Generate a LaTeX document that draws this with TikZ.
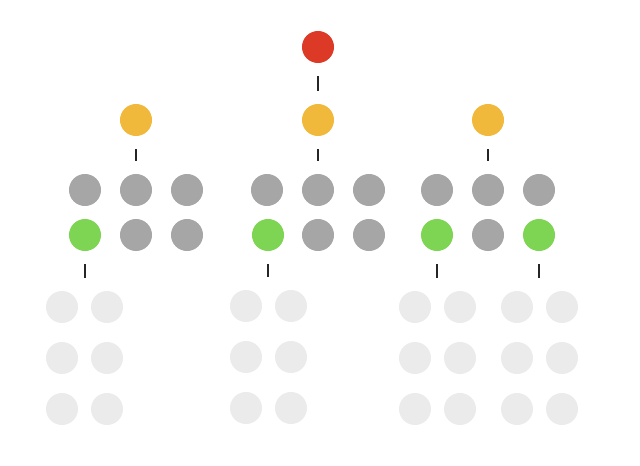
\documentclass[tikz,border=0pt]{standalone}
\definecolor{rootred}{HTML}{DC3A26}
\definecolor{midyellow}{HTML}{F0B93C}
\definecolor{leafgray}{HTML}{A6A6A6}
\definecolor{hitgreen}{HTML}{7ED453}
\definecolor{ghostgray}{HTML}{EBEBEB}
\begin{document}
\begin{tikzpicture}[x=0.025cm,y=-0.025cm]
            \tikzstyle{every node}+=[inner sep=0pt]
            \tikzstyle{dot}=[circle, minimum size=0.8cm]
            \tikzstyle{tick}=[draw=black!85, line width=1.4pt, shorten >=0.33cm, shorten <=0.33cm]
            \useasboundingbox (0,0) rectangle (640,466);
            % root and middle level
            \node [dot, fill=rootred] (r) at (318,47) {};
            \node [dot, fill=midyellow] (y1) at (136,120) {};
            \node [dot, fill=midyellow] (y2) at (318,120) {};
            \node [dot, fill=midyellow] (y3) at (488,120) {};
            % group 1
            \node [dot, fill=leafgray] (a11) at (85,190) {};
            \node [dot, fill=leafgray] (a12) at (136,190) {};
            \node [dot, fill=leafgray] (a13) at (187,190) {};
            \node [dot, fill=hitgreen] (a21) at (85,235) {};
            \node [dot, fill=leafgray] (a22) at (136,235) {};
            \node [dot, fill=leafgray] (a23) at (187,235) {};
            % group 2
            \node [dot, fill=leafgray] (b11) at (267,190) {};
            \node [dot, fill=leafgray] (b12) at (318,190) {};
            \node [dot, fill=leafgray] (b13) at (369,190) {};
            \node [dot, fill=hitgreen] (b21) at (268,235) {};
            \node [dot, fill=leafgray] (b22) at (318,235) {};
            \node [dot, fill=leafgray] (b23) at (369,235) {};
            % group 3
            \node [dot, fill=leafgray] (c11) at (437,190) {};
            \node [dot, fill=leafgray] (c12) at (488,190) {};
            \node [dot, fill=leafgray] (c13) at (539,190) {};
            \node [dot, fill=hitgreen] (c21) at (437,235) {};
            \node [dot, fill=leafgray] (c22) at (488,235) {};
            \node [dot, fill=hitgreen] (c23) at (539,235) {};
            % faded leaves
            \foreach \n/\x/\y in {p/62/307, q/246/306, s/415/307, t/517/307}{
                \foreach \row in {0,1,2}{
                    \node [dot, fill=ghostgray] (\n\row l) at (\x,\y+51*\row) {};
                    \node [dot, fill=ghostgray] (\n\row r) at (\x+45,\y+51*\row) {};
                }
            }
            \coordinate (ptop) at (a21 |- p0l.north);
            \coordinate (qtop) at (b21 |- q0l.north);
            \coordinate (stop) at (c21 |- s0l.north);
            \coordinate (ttop) at (c23 |- t0l.north);
            % ticks
            \draw [tick] (r) -- (y2);
            \draw [tick] (y1) -- (a12);
            \draw [tick] (y2) -- (b12);
            \draw [tick] (y3) -- (c12);
            \draw [tick] (a21) -- (ptop);
            \draw [tick] (b21) -- (qtop);
            \draw [tick] (c21) -- (stop);
            \draw [tick] (c23) -- (ttop);
        \end{tikzpicture}
\end{document}
